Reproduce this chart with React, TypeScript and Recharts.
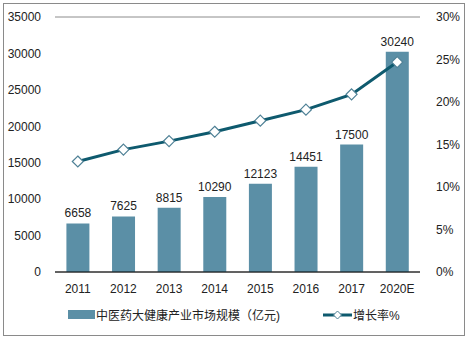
import { ComposedChart, Bar, Line, XAxis, YAxis, CartesianGrid, LabelList } from 'recharts';

const years = ['2011', '2012', '2013', '2014', '2015', '2016', '2017', '2020E'];
const marketSize = [6658, 7625, 8815, 10290, 12123, 14451, 17500, 30240];
const growthRate = [13.0, 14.4, 15.4, 16.5, 17.8, 19.1, 20.9, 24.7];

const leftTicks = [0, 5000, 10000, 15000, 20000, 25000, 30000, 35000];
const rightTicks = [0, 5, 10, 15, 20, 25, 30];

const data = years.map((year, i) => ({
    year,
    size: marketSize[i],
    rate: growthRate[i],
}));

const barColor = '#5B8FA6';
const lineColor = '#0E5A6E';
const font = 'Liberation Sans';
const cjkFont = 'Liberation Sans, Noto Sans CJK SC, sans-serif';

const Diamond = (props: any) => {
    const { cx, cy } = props;
    if (cx == null || cy == null) return null;
    const r = 5.5;
    return (
        <path
            d={`M${cx},${cy - r} L${cx + r},${cy} L${cx},${cy + r} L${cx - r},${cy} Z`}
            fill="#fff"
            stroke="#4F8196"
            strokeWidth={1.2}
        />
    );
};

export default function App() {
    return (
        <div style={{ position: 'absolute', left: 0, top: 0, width: 470, height: 340, fontFamily: cjkFont }}>
            <div style={{ position: 'absolute', left: 3, top: 3, width: 460, height: 331, border: '1px solid #8a8a8a' }} />
            <ComposedChart
                width={470}
                height={340}
                data={data}
                margin={{ top: 17, right: 0, bottom: 40, left: 0 }}
                barCategoryGap="25%"
                style={{ position: 'absolute', left: 0, top: 0, fontFamily: font }}
            >
                <CartesianGrid vertical={false} stroke="#8c8c8c" />
                <XAxis
                    dataKey="year"
                    height={28}
                    tickLine={false}
                    axisLine={{ stroke: '#000' }}
                    tick={{ fill: '#222', fontSize: 12, fontFamily: font }}
                    tickMargin={6}
                />
                <YAxis
                    yAxisId="left"
                    width={55}
                    domain={[0, 35000]}
                    ticks={leftTicks}
                    axisLine={false}
                    tickLine={false}
                    tick={{ fill: '#222', fontSize: 12, fontFamily: font }}
                    tickMargin={8}
                />
                <YAxis
                    yAxisId="right"
                    orientation="right"
                    width={50}
                    domain={[0, 30]}
                    ticks={rightTicks}
                    tickFormatter={(v) => `${v}%`}
                    axisLine={false}
                    tickLine={false}
                    tick={{ fill: '#222', fontSize: 12, fontFamily: font }}
                    tickMargin={10}
                />
                <Bar yAxisId="left" dataKey="size" fill={barColor} isAnimationActive={false}>
                    <LabelList dataKey="size" position="top" offset={6} fill="#222" fontSize={12} fontFamily={font} />
                </Bar>
                <Line
                    yAxisId="right"
                    dataKey="rate"
                    stroke={lineColor}
                    strokeWidth={3}
                    dot={<Diamond />}
                    activeDot={false}
                    isAnimationActive={false}
                />
            </ComposedChart>
            <div style={{ position: 'absolute', left: 68, top: 306, display: 'flex', alignItems: 'center', fontSize: 12, color: '#222', whiteSpace: 'nowrap' }}>
                <span style={{ display: 'inline-block', width: 27, height: 9, background: barColor, marginRight: 1 }} />
                <span>中医药大健康产业市场规模（亿元)</span>
            </div>
            <div style={{ position: 'absolute', left: 323, top: 306, display: 'flex', alignItems: 'center', fontSize: 12, color: '#222', whiteSpace: 'nowrap' }}>
                <svg width={29} height={12} style={{ marginRight: 1 }}>
                    <line x1={0} y1={6} x2={29} y2={6} stroke={lineColor} strokeWidth={3} />
                    <path d="M14.5,2 L18.5,6 L14.5,10 L10.5,6 Z" fill="#fff" stroke="#4F8196" strokeWidth={1} />
                </svg>
                <span>增长率%</span>
            </div>
        </div>
    );
}
